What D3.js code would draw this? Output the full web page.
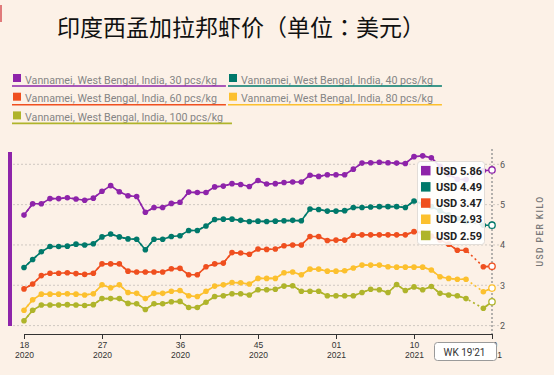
<!DOCTYPE html>
<html>
<head>
<meta charset="utf-8">
<script src="https://cdn.jsdelivr.net/npm/d3@7"></script>
<style>
body { margin: 0; background: #fcf1e7; }
svg { display: block; font-family: Roboto, sans-serif; }
</style>
</head>
<body>
<div id="chart"></div>
<script>
// weeks 18'20 .. 19'21
const weeks = [
  "18'20","19'20","20'20","21'20","22'20","23'20","24'20","25'20","26'20","27'20",
  "28'20","29'20","30'20","31'20","32'20","33'20","34'20","35'20","36'20","37'20",
  "38'20","39'20","40'20","41'20","42'20","43'20","44'20","45'20","46'20","47'20",
  "48'20","49'20","50'20","51'20","52'20","53'20","01'21","02'21","03'21","04'21",
  "05'21","06'21","07'21","08'21","09'21","10'21","11'21","12'21","13'21","14'21",
  "15'21","16'21","17'21","18'21","19'21"
];
const tickWeeks = ["18'20","27'20","36'20","45'20","01'21","10'21","19'21"];
const yTicks = [2, 3, 4, 5, 6];

const seriesNames = [
  "Vannamei, West Bengal, India, 30 pcs/kg",
  "Vannamei, West Bengal, India, 40 pcs/kg",
  "Vannamei, West Bengal, India, 60 pcs/kg",
  "Vannamei, West Bengal, India, 80 pcs/kg",
  "Vannamei, West Bengal, India, 100 pcs/kg"
];
const seriesColors = ["#8e24aa", "#00796b", "#ef4f1f", "#fcc02e", "#afb42b"];

const size30 = [4.74,5.02,5.02,5.15,5.15,5.17,5.14,5.11,5.16,5.33,5.47,5.32,5.22,5.20,4.81,4.93,4.93,5.03,5.06,5.31,
  5.30,5.30,5.44,5.46,5.52,5.50,5.45,5.60,5.51,5.52,5.55,5.56,5.56,5.73,5.70,5.74,5.74,5.74,5.88,6.03,
  6.04,6.05,6.04,6.03,6.02,6.19,6.21,6.16,5.95,5.75,5.63,5.62,null,5.84,5.86];
const size40 = [3.44,3.64,3.83,3.96,3.96,3.97,4.02,4.00,4.03,4.20,4.27,4.20,4.15,4.14,3.88,4.14,4.14,4.21,4.23,4.36,
  4.36,4.47,4.63,4.64,4.64,4.61,4.58,4.59,4.58,4.59,4.60,4.61,4.60,4.89,4.88,4.84,4.84,4.85,4.93,4.93,
  4.94,4.95,4.95,4.95,4.93,5.09,5.02,4.95,4.85,4.75,4.65,4.58,null,4.49,4.49];
const size60 = [2.91,3.03,3.24,3.30,3.30,3.31,3.29,3.27,3.30,3.53,3.53,3.53,3.35,3.33,3.33,3.33,3.33,3.41,3.42,3.26,
  3.26,3.46,3.53,3.55,3.81,3.80,3.77,3.90,3.89,3.90,3.98,4.00,4.00,4.21,4.21,4.11,4.12,4.12,4.24,4.25,
  4.25,4.25,4.25,4.25,4.25,4.33,4.30,4.22,4.12,4.02,3.87,3.87,null,3.46,3.47];
const size80 = [2.38,2.64,2.78,2.78,2.78,2.79,2.78,2.76,2.79,3.01,2.94,3.01,2.82,2.80,2.67,2.80,2.80,2.85,2.87,2.74,
  2.72,2.85,2.98,3.01,3.07,3.06,3.03,3.17,3.17,3.17,3.31,3.33,3.26,3.40,3.40,3.35,3.35,3.36,3.43,3.50,
  3.50,3.50,3.46,3.45,3.45,3.45,3.45,3.38,3.21,3.17,3.15,3.15,null,2.84,2.93];
const size100 = [2.12,2.38,2.51,2.51,2.51,2.52,2.51,2.50,2.52,2.67,2.67,2.67,2.55,2.54,2.40,2.54,2.54,2.59,2.60,2.45,
  2.45,2.58,2.72,2.74,2.79,2.79,2.76,2.89,2.89,2.90,2.98,2.99,2.85,2.85,2.85,2.74,2.74,2.74,2.74,2.82,
  2.90,2.89,2.82,3.02,2.87,2.96,2.89,2.97,2.80,2.76,2.74,2.67,null,2.43,2.59];

const allSeries = [size30, size40, size60, size80, size100];
const hoverWeek = "19'21";

const width = 554, height = 375;
const svg = d3.select("#chart").append("svg")
  .attr("width", width)
  .attr("height", height);

svg.append("rect").attr("width", width).attr("height", height).attr("fill", "#fcf1e7");
svg.append("rect").attr("x", 0).attr("y", 5).attr("width", 2).attr("height", 17).attr("fill", "#e07b7b");

// title
svg.append("text")
  .attr("x", 57).attr("y", 35.5)
  .attr("font-family", "'Noto Sans CJK TC', 'Noto Sans CJK SC', sans-serif")
  .attr("font-size", 23)
  .attr("fill", "#111")
  .text("印度西孟加拉邦虾价（单位：美元）");

// legend
const legend = svg.append("g").selectAll("g")
  .data(seriesNames)
  .enter().append("g")
  .attr("transform", (d, i) => `translate(${13 + (i % 2) * 216},${83.5 + Math.floor(i / 2) * 18.7})`);

legend.append("rect")
  .attr("x", 0).attr("y", -9.5)
  .attr("width", 8).attr("height", 8)
  .attr("fill", (d, i) => seriesColors[i]);

legend.append("text")
  .attr("x", 12)
  .attr("font-size", 10.7)
  .attr("fill", "#858585")
  .text(d => d);

legend.each(function (d, i) {
  const w = d3.select(this).select("text").node().getComputedTextLength();
  d3.select(this).append("line")
    .attr("x1", -1).attr("x2", 12 + w + 9)
    .attr("y1", 2.5).attr("y2", 2.5)
    .attr("stroke", seriesColors[i])
    .attr("stroke-width", 1.6);
});

// scales
const x = d3.scalePoint().domain(weeks).range([24, 492]);
const y = d3.scaleLinear().domain([2, 6]).range([325.6, 164.3]);

// gridlines
svg.append("g").selectAll("line")
  .data(yTicks)
  .enter().append("line")
  .attr("x1", 13).attr("x2", 499)
  .attr("y1", d => y(d)).attr("y2", d => y(d))
  .attr("stroke", "#cfc8c2")
  .attr("stroke-width", 1)
  .attr("stroke-dasharray", "2,2");

// y axis (right)
svg.append("line")
  .attr("x1", 492).attr("x2", 492)
  .attr("y1", 149).attr("y2", 334)
  .attr("stroke", "#9a9a9a")
  .attr("stroke-width", 1.5)
  .attr("stroke-dasharray", "2,2");

const yAxis = svg.append("g")
  .attr("transform", "translate(492,0)")
  .call(d3.axisRight(y).tickValues(yTicks).tickSize(0).tickPadding(8).tickFormat(d3.format("d")));
yAxis.select(".domain").remove();
yAxis.selectAll("text").attr("font-size", 9).attr("fill", "#555").attr("font-family", "Roboto, sans-serif");

svg.append("text")
  .attr("transform", "translate(543,231) rotate(-90)")
  .attr("text-anchor", "middle")
  .attr("font-size", 8.5)
  .attr("letter-spacing", 1.4)
  .attr("font-weight", 500)
  .attr("fill", "#777")
  .text("USD PER KILO");

// left indicator bar
svg.append("rect")
  .attr("x", 8).attr("y", 152)
  .attr("width", 4).attr("height", 174)
  .attr("fill", seriesColors[0]);

// x axis
const xAxis = svg.append("g")
  .attr("transform", "translate(0,334)")
  .call(d3.axisBottom(x).tickValues(tickWeeks).tickSize(5).tickSizeOuter(0).tickFormat(""));
xAxis.select(".domain").attr("stroke", "#333");
xAxis.selectAll(".tick line").attr("stroke", "#333");
xAxis.selectAll(".tick").each(function (d) {
  const t = d3.select(this).append("text")
    .attr("fill", "#333")
    .attr("font-size", 8.5)
    .attr("font-family", "'Liberation Sans', sans-serif")
    .attr("text-anchor", "middle");
  t.append("tspan").attr("x", 0).attr("y", 13.5).text(d.slice(0, 2));
  t.append("tspan").attr("x", 0).attr("y", 23.5).text("20" + d.slice(3));
});

// lines
const lineAll = d3.line()
  .x(d => x(d.week))
  .y(d => y(d.value));
const lineSolid = d3.line()
  .defined(d => d.value != null)
  .x(d => x(d.week))
  .y(d => y(d.value));

const plot = svg.append("g");
allSeries.forEach((vals, si) => {
  const pts = vals.map((v, i) => ({ week: weeks[i], value: v }));
  const g = plot.append("g");
  g.append("path")
    .datum(pts.filter(d => d.value != null))
    .attr("d", lineAll)
    .attr("fill", "none")
    .attr("stroke", seriesColors[si])
    .attr("stroke-width", 1.6)
    .attr("stroke-dasharray", "2,3");
  g.append("path")
    .datum(pts)
    .attr("d", lineSolid)
    .attr("fill", "none")
    .attr("stroke", seriesColors[si])
    .attr("stroke-width", 1.6);
  g.selectAll("circle")
    .data(pts.filter(d => d.value != null))
    .enter().append("circle")
    .attr("cx", d => x(d.week))
    .attr("cy", d => y(d.value))
    .attr("r", d => d.week === hoverWeek ? 3.2 : 2.8)
    .attr("fill", d => d.week === hoverWeek ? "#fff" : seriesColors[si])
    .attr("stroke", d => d.week === hoverWeek ? seriesColors[si] : "none")
    .attr("stroke-width", 1.3);
});

// hover values box
const hoverIdx = weeks.indexOf(hoverWeek);
const tip = svg.append("g").attr("transform", "translate(417.5,161.5)");
tip.append("rect")
  .attr("width", 67).attr("height", 83).attr("rx", 3)
  .attr("fill", "#fff").attr("fill-opacity", 0.88)
  .attr("stroke", "#e2ddd8");
const tipRow = tip.selectAll("g")
  .data(allSeries)
  .enter().append("g")
  .attr("transform", (d, i) => `translate(0,${9.2 + i * 16.2})`);
tipRow.append("rect")
  .attr("x", 3.5).attr("y", -4.8)
  .attr("width", 9.5).attr("height", 9.5)
  .attr("fill", (d, i) => seriesColors[i]);
tipRow.append("text")
  .attr("x", 18.5).attr("y", 4)
  .attr("font-size", 11)
  .attr("font-weight", 700)
  .attr("fill", "#222")
  .text(d => "USD " + d3.format(".2f")(d[hoverIdx]));

// week label box
const wk = svg.append("g").attr("transform", "translate(434.5,342.5)");
wk.append("rect")
  .attr("width", 62).attr("height", 18).attr("rx", 3)
  .attr("fill", "#fff").attr("stroke", "#9a9a9a");
wk.append("text")
  .attr("x", 30).attr("y", 13)
  .attr("text-anchor", "middle")
  .attr("font-size", 10)
  .attr("fill", "#333")
  .text("WK " + hoverWeek);
</script>
</body>
</html>
